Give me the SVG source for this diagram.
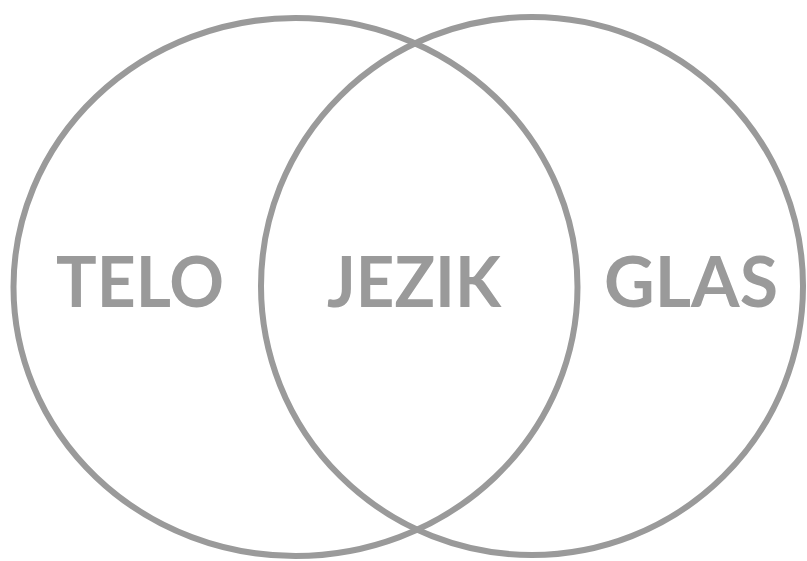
<svg xmlns="http://www.w3.org/2000/svg" width="807" height="561" viewBox="0 0 807 561">
<style>
.ring{fill:none;stroke:#9a9a9a;stroke-width:6}
.lbl{font-family:Lato,"Open Sans","Liberation Sans",sans-serif;font-weight:700;font-size:71px;fill:#9a9a9a}
</style>
<rect width="807" height="561" fill="#fff"/>
<g id="telo">
<ellipse class="ring" cx="295.5" cy="287" rx="282" ry="269"/>
<text class="lbl" x="56" y="307" textLength="168" lengthAdjust="spacingAndGlyphs">TELO</text>
</g>
<g id="glas">
<ellipse class="ring" cx="532" cy="286" rx="271" ry="269"/>
<text class="lbl" x="604" y="307" textLength="174" lengthAdjust="spacingAndGlyphs">GLAS</text>
</g>
<g id="jezik">
<text class="lbl" x="327" y="307" textLength="174" lengthAdjust="spacingAndGlyphs">JEZIK</text>
</g>
<g id="connectors"></g>
</svg>
